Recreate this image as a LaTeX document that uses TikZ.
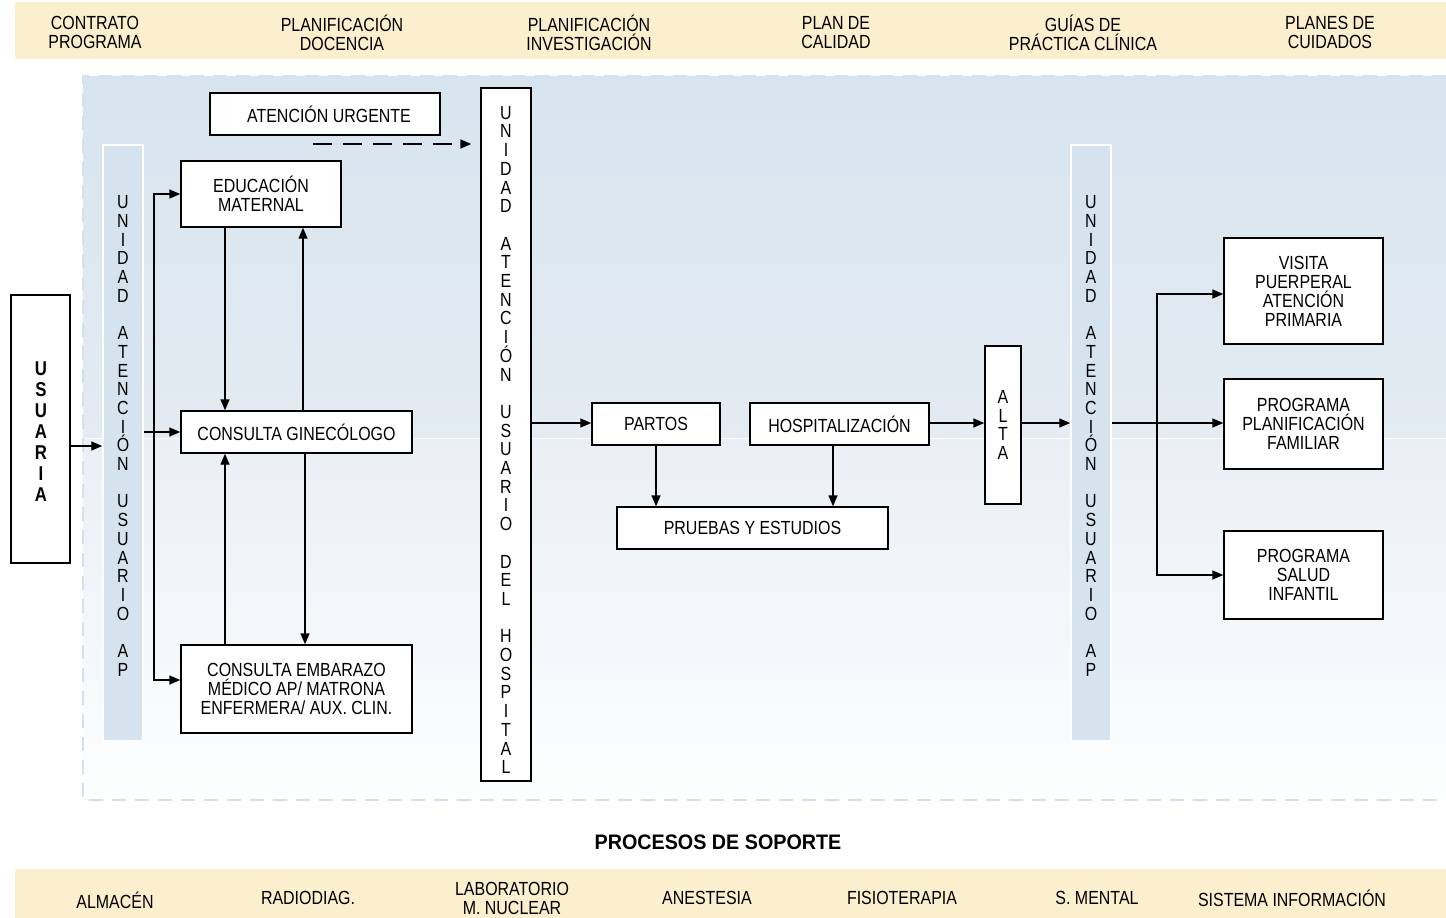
\documentclass[tikz,border=0pt]{standalone}
\usepackage{fontspec}
\setmainfont{Liberation Sans}[FakeStretch=0.84]
\newfontfamily\titlefont{Liberation Sans}[FakeStretch=0.94]
\usetikzlibrary{arrows.meta,calc}
\definecolor{barc}{HTML}{FCEFCD}
\definecolor{colc}{HTML}{D5E3EE}
\definecolor{bgtop}{HTML}{D7E4EE}
\definecolor{bgmid}{HTML}{E4EBF2}
\definecolor{bgmidb}{HTML}{E9EFF5}
\definecolor{bgbot}{HTML}{FDFEFE}
\definecolor{dashc}{HTML}{D3E1EE}
\begin{document}
\begin{tikzpicture}[x=1pt,y=-1pt,
  txt/.style={font=\fontsize{19}{19}\selectfont, align=center, inner sep=0pt},
  box/.style={draw=black, line width=1.4pt, fill=white, txt},
  vcol/.style={draw=white, line width=1.5pt, fill=colc, inner sep=0pt},
  vtxt/.style={font=\fontsize{19}{18.7}\selectfont, align=center, inner sep=0pt},
  arr/.style={-{Triangle[length=11pt,width=9pt]}, line width=1.4pt},
  bar/.style={fill=barc, draw=none},
]
\useasboundingbox (0,0) rectangle (1446,918);
\fill[white] (0,0) rectangle (1446,918);

% bars
\path[bar] (15,2) rectangle (1446,59);
\path[bar] (15,869) rectangle (1446,918);

% main process region
\shade[top color=bgtop, bottom color=bgmid] (83,76) rectangle (1446,438);
\shade[top color=bgmidb, bottom color=bgbot] (83,438) rectangle (1446,800);
\draw[white, line width=1pt, opacity=0.8] (83,438) -- (1446,438);
\draw[dashc, line width=1.2pt, dash pattern=on 14pt off 9pt] (1446,76) -- (83,76) -- (83,800) -- (1446,800);

% top bar labels
\foreach \x/\t [count=\i] in {95/{CONTRATO\\PROGRAMA}, 342/{PLANIFICACIÓN\\DOCENCIA}, 589/{PLANIFICACIÓN\\INVESTIGACIÓN}, 836/{PLAN DE\\CALIDAD}, 1083/{GUÍAS DE\\PRÁCTICA CLÍNICA}, 1330/{PLANES DE\\CUIDADOS}}
  \node[txt] (top\i) at (\x,32.5) {\t};

% bottom bar labels
\node[txt] (b1) at (115,900) {ALMACÉN};
\node[txt] (b2) at (308,898) {RADIODIAG.};
\node[txt] (b3) at (512,898.5) {LABORATORIO\\M. NUCLEAR};
\node[txt] (b4) at (707,898) {ANESTESIA};
\node[txt] (b5) at (902,898) {FISIOTERAPIA};
\node[txt] (b6) at (1097,898) {S. MENTAL};
\node[txt] (b7) at (1292,898) {SISTEMA INFORMACIÓN};

\node[inner sep=0pt, font=\titlefont\fontsize{21}{22}\selectfont\bfseries] (soporte) at (718,842) {PROCESOS DE SOPORTE};

% columns
\node[vcol, minimum width=40pt, minimum height=596pt] (colL) at (123,443) {};
\node[vcol, minimum width=40pt, minimum height=596pt] (colR) at (1091,443) {};
\node[vtxt] (colLt) at (123,436) {U\\N\\I\\D\\A\\D\\\mbox{}\\A\\T\\E\\N\\C\\I\\Ó\\N\\\mbox{}\\U\\S\\U\\A\\R\\I\\O\\\mbox{}\\A\\P};
\node[vtxt] (colRt) at (1091,436) {U\\N\\I\\D\\A\\D\\\mbox{}\\A\\T\\E\\N\\C\\I\\Ó\\N\\\mbox{}\\U\\S\\U\\A\\R\\I\\O\\\mbox{}\\A\\P};

\node[box, minimum width=50pt, minimum height=693pt] (colM) at (506,434.5) {};
\node[vtxt] (colMt) at (506,440) {U\\N\\I\\D\\A\\D\\\mbox{}\\A\\T\\E\\N\\C\\I\\Ó\\N\\\mbox{}\\U\\S\\U\\A\\R\\I\\O\\\mbox{}\\D\\E\\L\\\mbox{}\\H\\O\\S\\P\\I\\T\\A\\L};

% usuaria
\node[box, minimum width=59pt, minimum height=268pt] (usuaria) at (40.5,429) {};
\node[inner sep=0pt, align=center, font=\fontsize{20}{21}\selectfont\bfseries] (usuariat) at (41,432) {U\\S\\U\\A\\R\\I\\A};

% boxes
\node[box, minimum width=230pt, minimum height=42pt] (urg) at (325,114) {\hspace*{8pt}ATENCIÓN URGENTE};
\node[box, minimum width=160pt, minimum height=66pt] (edu) at (261,194) {EDUCACIÓN\\MATERNAL};
\node[box, minimum width=231pt, minimum height=42pt] (cons) at (296.5,432) {CONSULTA GINECÓLOGO};
\node[box, minimum width=231pt, minimum height=88pt] (emb) at (296.5,689) {CONSULTA EMBARAZO\\MÉDICO AP/ MATRONA\\ENFERMERA/ AUX. CLIN.};
\node[box, minimum width=128pt, minimum height=42pt] (partos) at (656,424) {PARTOS};
\node[box, minimum width=179pt, minimum height=42pt] (hosp) at (839.5,424) {HOSPITALIZACIÓN};
\node[box, minimum width=271pt, minimum height=42pt] (pruebas) at (752.5,528) {PRUEBAS Y ESTUDIOS};
\node[box, minimum width=36pt, minimum height=158pt, font=\fontsize{19}{18.5}\selectfont] (alta) at (1003,425) {A\\L\\T\\A};
\node[box, minimum width=159pt, minimum height=106pt] (visita) at (1303.5,291) {VISITA\\PUERPERAL\\ATENCIÓN\\PRIMARIA};
\node[box, minimum width=159pt, minimum height=90pt] (plan) at (1303.5,424) {PROGRAMA\\PLANIFICACIÓN\\FAMILIAR};
\node[box, minimum width=159pt, minimum height=88pt] (salud) at (1303.5,575) {PROGRAMA\\SALUD\\INFANTIL};

% connectors left
\draw[arr] (usuaria.east |- 0,446) -- (colL.west |- 0,446);
\draw[arr] (colL.east |- cons.west) -- (cons.west);
\coordinate (bl) at (154,432);
\draw[arr] (bl) |- (edu.west);
\draw[arr] (bl) |- (emb.west |- 0,680);
\draw[arr] (edu.south -| 225,0) -- (cons.north -| 225,0);
\draw[arr] (cons.north -| 303,0) -- (edu.south -| 303,0);
\draw[arr] (emb.north -| 225,0) -- (cons.south -| 225,0);
\draw[arr] (cons.south -| 305,0) -- (emb.north -| 305,0);
\coordinate (ds) at (313,144);
\draw[arr, dash pattern=on 19pt off 11pt] (ds) -- ([xshift=-9pt]colM.west |- ds);

% connectors middle
\draw[arr] (colM.east |- 0,423) -- (partos.west |- 0,423);
\draw[arr] (partos.south) -- (partos.south |- pruebas.north);
\draw[arr] (hosp.south -| 833,0) -- (pruebas.north -| 833,0);
\draw[arr] (hosp.east |- 0,423) -- (alta.west |- 0,423);
\draw[arr] (alta.east |- 0,423) -- (colR.west |- 0,423);

% connectors right
\draw[arr] (colR.east |- 0,423) -- (plan.west |- 0,423);
\coordinate (br) at (1157,423);
\draw[arr] (br) |- (visita.west |- 0,294);
\draw[arr] (br) |- (salud.west |- 0,575);
\end{tikzpicture}
\end{document}
